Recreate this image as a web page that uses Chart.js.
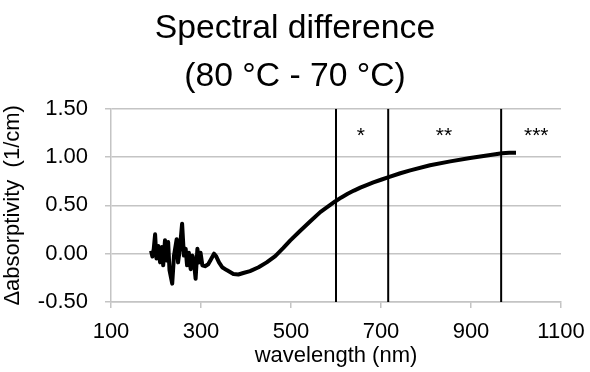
<!DOCTYPE html>
<html><head><meta charset="utf-8">
<script src="https://cdn.jsdelivr.net/npm/chart.js@4"></script>
<style>html,body{margin:0;padding:0;background:#fff}</style>
</head><body>
<canvas id="c" width="590" height="372" style="width:590px;height:372px"></canvas>
<script>
// ---- data ----
const wavelengths = [189,192,195,198,201,205,209,213,216,220,223,227,230,236,240,246,249,253,258,262,266,269,273,277,281,284,288,292,296,299,303,309,316,322,329,334,340,347,357,372,383,394,409,428,446,465,483,498,520,543,565,598,612,626,640,654,668,683,700,717,743,765,809,854,898,943,969,985,1000];
const absorptivity = [0.03,-0.03,0.05,0.20,-0.05,0.08,-0.09,0.07,-0.12,0.14,-0.07,0.12,-0.17,-0.31,-0.02,0.15,-0.09,0.05,0.31,-0.02,0.05,-0.12,0.01,-0.16,-0.02,-0.07,-0.26,0.05,-0.09,0.01,-0.12,-0.13,-0.11,-0.06,0.00,-0.03,-0.09,-0.14,-0.17,-0.21,-0.215,-0.20,-0.18,-0.14,-0.09,-0.025,0.06,0.135,0.235,0.335,0.43,0.54,0.582,0.62,0.653,0.683,0.71,0.737,0.765,0.792,0.832,0.862,0.915,0.955,0.99,1.02,1.04,1.045,1.045];
const markerWavelengths = [600, 716, 967];
const regionLabels = ['*', '**', '***'];
const regionLabelX = [655, 840, 1045];
const regionLabelY = 1.16;
const xTicks = [100, 300, 500, 700, 900, 1100];
const yTicks = [-0.5, 0, 0.5, 1.0, 1.5];
const titleLines = ['Spectral difference', '(80 °C - 70 °C)'];
const xTitle = 'wavelength (nm)';
const yTitle = 'Δabsorptivity  (1/cm)';

const FAMILY = '"Liberation Sans", Arial, Helvetica, sans-serif';
const GRID = '#c4c4c4';

const regionLabelPlugin = {
  id: 'regionLabels',
  afterDatasetsDraw(chart) {
    const { ctx, scales: { x, y } } = chart;
    ctx.save();
    ctx.font = '21px ' + FAMILY;
    ctx.fillStyle = '#000';
    ctx.textAlign = 'center';
    ctx.textBaseline = 'alphabetic';
    regionLabels.forEach((t, i) => ctx.fillText(t, x.getPixelForValue(regionLabelX[i]), y.getPixelForValue(regionLabelY)));
    ctx.restore();
  }
};

const datasets = [{
  data: wavelengths.map((w, i) => ({ x: w, y: absorptivity[i] })),
  borderColor: '#000', borderWidth: 4, pointRadius: 0, tension: 0,
  borderJoinStyle: 'round', borderCapStyle: 'butt'
}].concat(markerWavelengths.map(w => ({
  data: [{ x: w, y: yTicks[0] }, { x: w, y: yTicks[yTicks.length - 1] }],
  borderColor: '#000', borderWidth: 2, pointRadius: 0
})));

new Chart(document.getElementById('c'), {
  type: 'line',
  data: { datasets },
  options: {
    responsive: false, animation: false, devicePixelRatio: 1,
    layout: { padding: 0 },
    plugins: {
      legend: { display: false }, tooltip: { enabled: false },
      title: {
        display: true, text: titleLines, color: '#000',
        font: { family: FAMILY, size: 33.7, weight: 'normal', lineHeight: 1.42 },
        padding: { top: 5, bottom: 8 }
      }
    },
    scales: {
      x: {
        type: 'linear', min: xTicks[0], max: xTicks[xTicks.length - 1],
        afterBuildTicks: a => { a.ticks = xTicks.map(v => ({ value: v })); },
        afterFit: s => { s.height = 70; s.paddingRight = 29; s.paddingLeft = 0; },
        grid: { drawOnChartArea: false, drawTicks: true, tickLength: 6, color: GRID, lineWidth: 1.5 },
        border: { display: true, color: GRID, width: 1.5 },
        ticks: { color: '#000', font: { family: FAMILY, size: 22 }, padding: 11, maxRotation: 0, autoSkip: false, callback: v => String(v) },
        title: { display: true, text: xTitle, color: '#000', font: { family: FAMILY, size: 22 }, padding: { top: 0, bottom: 3 } }
      },
      y: {
        type: 'linear', min: yTicks[0], max: yTicks[yTicks.length - 1],
        afterBuildTicks: a => { a.ticks = yTicks.map(v => ({ value: v })); },
        afterFit: s => { s.width = 111; },
        grid: { drawOnChartArea: true, drawTicks: true, tickLength: 6, color: GRID, lineWidth: 1.5 },
        border: { display: true, color: GRID, width: 1.5 },
        ticks: { color: '#000', font: { family: FAMILY, size: 22 }, padding: 17, callback: v => Number(v).toFixed(2) },
        title: { display: true, text: yTitle, color: '#000', font: { family: FAMILY, size: 22 }, padding: { top: 0, bottom: 0 } }
      }
    }
  },
  plugins: [regionLabelPlugin]
});
</script>
</body></html>
